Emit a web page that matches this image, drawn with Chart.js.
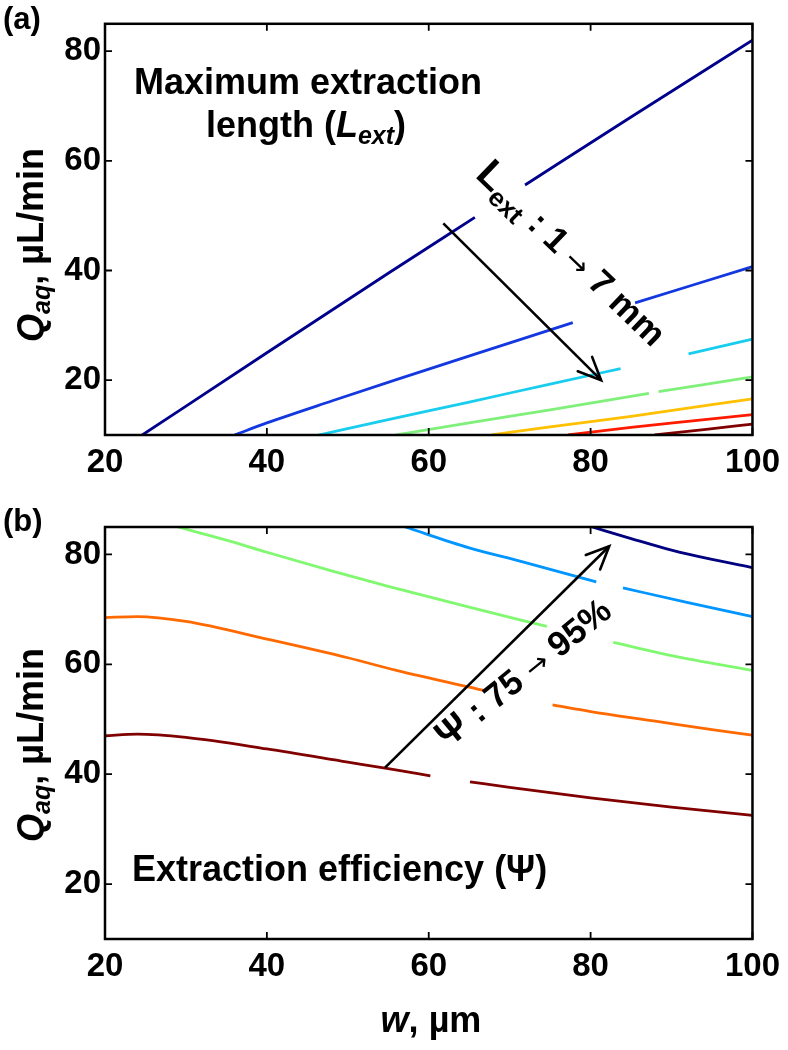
<!DOCTYPE html>
<html>
<head>
<meta charset="utf-8">
<script src="https://cdn.jsdelivr.net/npm/chart.js@4.4.1/dist/chart.umd.min.js"></script>
<style>
  body { margin: 0; background: #fff; width: 788px; height: 1050px; position: relative; overflow: hidden; }
  canvas { position: absolute; left: 0; }
  #chartA { top: 0; }
  #chartB { top: 480px; }
</style>
</head>
<body>
<canvas id="chartA" width="788" height="480"></canvas>
<canvas id="chartB" width="788" height="570"></canvas>
<script>
// axes
var wTicks = [20, 40, 60, 80, 100];
var qTicks = [20, 40, 60, 80];

// (a) max extraction length contours, Lext = 1..7 mm  -> [w um, Qaq uL/min], null = gap under the label
var lext1 = [[24.6,10],[40,25],[55,39.5],[65.7,49.7],[68.8,null],[71.9,55.6],[85,68],[100,82]];
var lext2 = [[36,10],[40,12.2],[48,16.2],[56,20.1],[66,24.9],[77.8,30.5],[81.6,null],[85.5,34.1],[100,40.7]];
var lext3 = [[46.4,10],[55,12.8],[65,16.0],[75,19.3],[83.7,22.1],[87.9,null],[92.1,24.8],[100,27.5]];
var lext4 = [[56,10],[65,12.2],[75,14.6],[87.2,17.6],[87.8,null],[88.4,17.9],[100,20.6]];
var lext5 = [[67.8,10],[75,11.5],[85,13.4],[100,16.6]];
var lext6 = [[77.2,10],[85,11.4],[92,12.5],[100,13.7]];
var lext7 = [[87.9,10],[94,11.0],[100,12.0]];
var lextColors = ['#00008c', '#1438e0', '#18cdee', '#7ff07a', '#ffc000', '#ff1a00', '#800000'];
var arrowA = [[61.8,48.6],[81.3,20.0]];

// (b) extraction efficiency contours, psi = 75..95 %
var psi75 = [[20,47.0],[24,47.3],[30,46.7],[40,44.6],[50,42.2],[55,41.0],[60.2,39.7],[62.6,null],[65.1,38.6],[70,37.6],[80,35.7],[90,34.0],[100,32.5]];
var psi80 = [[20,68.5],[24,68.7],[30,67.8],[40,64.6],[50,61.2],[56,58.9],[67,55.2],[71,null],[75.3,52.6],[80,51.4],[87.8,49.7],[95,48.1],[100,47.1]];
var psi85 = [[29,85],[35,82.6],[40,80.4],[48,77.0],[55,74.2],[65,70.4],[74.6,66.9],[78.7,null],[82.8,64.0],[90,61.6],[100,58.9]];
var psi90 = [[57.1,85],[65,81.2],[71.5,78.7],[80.7,75.0],[82.3,null],[84,73.9],[91.9,71.3],[100,68.7]];
var psi95 = [[80.2,85],[85,82.9],[90,80.8],[95,79.1],[100,77.6]];
var psiColors = ['#800000', '#ff6a00', '#80f870', '#0095ff', '#000080'];
var arrowB = [[54.6,41.2],[82.3,81.5]];

var FAM = '"Liberation Sans", Arial, Helvetica, sans-serif';
var ARROW_FONT = '28px "DejaVu Sans", sans-serif';

function toPts(arr) {
  return arr.map(function (p) { return { x: p[0], y: p[1] }; });
}

// draw text made of several styled parts along a (possibly rotated) baseline
function richText(ctx, parts, x, y, angle, align) {
  ctx.save();
  ctx.translate(x, y);
  ctx.rotate(angle || 0);
  ctx.fillStyle = '#000';
  ctx.textBaseline = 'alphabetic';
  ctx.textAlign = 'left';
  var total = 0;
  parts.forEach(function (p) { ctx.font = p.f; total += ctx.measureText(p.t).width; });
  var cx = align === 'left' ? 0 : -total / 2;
  parts.forEach(function (p) {
    ctx.font = p.f;
    ctx.fillText(p.t, cx, p.dy || 0);
    cx += ctx.measureText(p.t).width;
  });
  ctx.restore();
}

function arrowHead(ctx, x0, y0, x1, y1) {
  var a = Math.atan2(y1 - y0, x1 - x0), len = 25, sp = 0.42;
  ctx.save();
  ctx.strokeStyle = '#000';
  ctx.lineWidth = 2.6;
  ctx.lineCap = 'round';
  ctx.beginPath();
  ctx.moveTo(x1 - len * Math.cos(a - sp), y1 - len * Math.sin(a - sp));
  ctx.lineTo(x1, y1);
  ctx.lineTo(x1 - len * Math.cos(a + sp), y1 - len * Math.sin(a + sp));
  ctx.stroke();
  ctx.restore();
}

// box with inward ticks on all four sides
var framePlugin = {
  id: 'frame',
  afterDraw: function (chart) {
    var ctx = chart.ctx, a = chart.chartArea, x = chart.scales.x, y = chart.scales.y;
    ctx.save();
    ctx.strokeStyle = '#000';
    ctx.lineWidth = 1.8;
    ctx.beginPath();
    wTicks.forEach(function (v) {
      var px = x.getPixelForValue(v);
      ctx.moveTo(px, a.bottom); ctx.lineTo(px, a.bottom - 7);
      ctx.moveTo(px, a.top); ctx.lineTo(px, a.top + 7);
    });
    qTicks.forEach(function (v) {
      var py = y.getPixelForValue(v);
      ctx.moveTo(a.left, py); ctx.lineTo(a.left + 7, py);
      ctx.moveTo(a.right, py); ctx.lineTo(a.right - 7, py);
    });
    ctx.stroke();
    ctx.lineWidth = 2.5;
    ctx.strokeRect(a.left, a.top, a.right - a.left, a.bottom - a.top);
    ctx.restore();
  }
};

function yTitle(ctx, cy) {
  richText(ctx, [
    { t: 'Q', f: 'italic bold 36px ' + FAM },
    { t: 'aq', f: 'italic bold 25px ' + FAM, dy: 7 },
    { t: ', \u00b5L/min', f: 'bold 36px ' + FAM }
  ], 43, cy, -Math.PI / 2);
}

var textA = {
  id: 'textA',
  afterDraw: function (chart) {
    var ctx = chart.ctx, x = chart.scales.x, y = chart.scales.y;
    richText(ctx, [{ t: '(a)', f: 'bold 31px ' + FAM }], 3, 29, 0, 'left');
    yTitle(ctx, 245);
    richText(ctx, [{ t: 'Maximum extraction', f: 'bold 36px ' + FAM }], 308, 94);
    richText(ctx, [
      { t: 'length (', f: 'bold 36px ' + FAM },
      { t: 'L', f: 'italic bold 36px ' + FAM },
      { t: 'ext', f: 'italic bold 25px ' + FAM, dy: 7 },
      { t: ')', f: 'bold 36px ' + FAM }
    ], 306, 137);
    richText(ctx, [
      { t: 'L', f: 'bold 40px ' + FAM },
      { t: 'ext', f: 'bold 26px ' + FAM, dy: 8 },
      { t: ' : 1 ', f: 'bold 35px ' + FAM },
      { t: '\u2192', f: ARROW_FONT },
      { t: ' 7 mm', f: 'bold 35px ' + FAM }
    ], x.getPixelForValue(76.6), y.getPixelForValue(41.5), 44 * Math.PI / 180);
    arrowHead(ctx, x.getPixelForValue(arrowA[0][0]), y.getPixelForValue(arrowA[0][1]),
      x.getPixelForValue(arrowA[1][0]), y.getPixelForValue(arrowA[1][1]));
  }
};

var textB = {
  id: 'textB',
  afterDraw: function (chart) {
    var ctx = chart.ctx, x = chart.scales.x, y = chart.scales.y;
    richText(ctx, [{ t: '(b)', f: 'bold 31px ' + FAM }], 3, 51, 0, 'left');
    yTitle(ctx, 265);
    richText(ctx, [{ t: 'Extraction efficiency (\u03a8)', f: 'bold 36px ' + FAM }], 132, 401, 0, 'left');
    richText(ctx, [
      { t: 'w', f: 'italic bold 36px ' + FAM },
      { t: ', \u00b5m', f: 'bold 36px ' + FAM }
    ], 431, 552);
    richText(ctx, [
      { t: '\u03a8', f: 'bold 38px ' + FAM },
      { t: ' : 75 ', f: 'bold 35px ' + FAM },
      { t: '\u2192', f: ARROW_FONT },
      { t: ' 95%', f: 'bold 35px ' + FAM }
    ], x.getPixelForValue(72.6), y.getPixelForValue(56.8), -39 * Math.PI / 180);
    arrowHead(ctx, x.getPixelForValue(arrowB[0][0]), y.getPixelForValue(arrowB[0][1]),
      x.getPixelForValue(arrowB[1][0]), y.getPixelForValue(arrowB[1][1]));
  }
};

function makePanel(id, series, colors, arrow, padTop, xHeight, textPlugin) {
  var sets = [{ data: toPts(arrow), borderColor: '#000', borderWidth: 2.6 }];
  series.forEach(function (s, i) {
    sets.push({ data: toPts(s), borderColor: colors[i], borderWidth: 2.8, cubicInterpolationMode: 'monotone' });
  });
  sets.forEach(function (d) { d.pointRadius = 0; d.fill = false; d.spanGaps = false; });

  var tickFont = { family: FAM, size: 33, weight: 'bold' };
  return new Chart(document.getElementById(id), {
    type: 'line',
    data: { datasets: sets },
    options: {
      responsive: false,
      animation: false,
      layout: { padding: { top: padTop, right: 31, left: 0, bottom: 0 } },
      plugins: { legend: { display: false }, tooltip: { enabled: false } },
      scales: {
        x: {
          type: 'linear', min: 20, max: 100,
          afterBuildTicks: function (s) { s.ticks = wTicks.map(function (v) { return { value: v }; }); },
          afterFit: function (s) { s.height = xHeight; },
          grid: { display: false, drawTicks: false },
          border: { display: false },
          ticks: { color: '#000', font: tickFont, padding: 8, maxRotation: 0 }
        },
        y: {
          type: 'linear', min: 10, max: 85,
          afterBuildTicks: function (s) { s.ticks = qTicks.map(function (v) { return { value: v }; }); },
          afterFit: function (s) { s.width = 105; },
          grid: { display: false, drawTicks: false },
          border: { display: false },
          ticks: { color: '#000', font: tickFont, padding: 4 }
        }
      }
    },
    plugins: [framePlugin, textPlugin]
  });
}

makePanel('chartA', [lext1, lext2, lext3, lext4, lext5, lext6, lext7], lextColors, arrowA, 23, 45, textA);
makePanel('chartB', [psi75, psi80, psi85, psi90, psi95], psiColors, arrowB, 47, 111, textB);
</script>
</body>
</html>
